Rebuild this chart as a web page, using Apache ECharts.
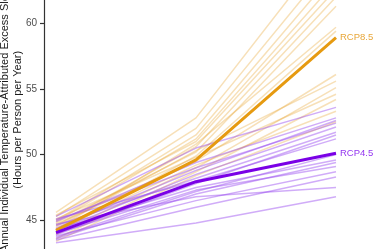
<!DOCTYPE html>
<html>
<head>
<meta charset="utf-8">
<script src="https://cdn.jsdelivr.net/npm/echarts@6/dist/echarts.min.js"></script>
<style>html,body{margin:0;padding:0;background:#fff}#c{width:374px;height:249px}</style>
</head>
<body>
<div id="c"></div>
<script>
// Time points (x categories)
var periods = ['Baseline', 'Mid-century', 'End-century'];
var yTicks = [45, 50, 55, 60];
var yTitle1 = 'Annual Individual Temperature-Attributed Excess Sleep Loss';
var yTitle2 = '(Hours per Person per Year)';

// Ensemble mean lines
var rcp85Mean = [44.23, 49.6, 58.9];
var rcp45Mean = [44.06, 47.94, 50.1];

// Individual model lines, RCP8.5
var rcp85Models = [
  [45.6, 52.8, 66.5],
  [45.3, 52.0, 65.0],
  [45.0, 51.5, 64.0],
  [44.9, 51.2, 63.2],
  [45.4, 51.0, 62.6],
  [44.6, 50.6, 62.0],
  [44.8, 50.2, 61.3],
  [44.3, 50.8, 59.7],
  [44.0, 49.9, 59.4],
  [44.7, 49.5, 56.1],
  [44.5, 50.3, 55.6],
  [43.9, 49.0, 55.1],
  [45.1, 49.8, 54.6],
  [43.6, 48.7, 54.2],
  [43.4, 48.4, 52.5],
  [44.2, 49.2, 53.3]
];
// Individual model lines, RCP4.5
var rcp45Models = [
  [45.3, 50.5, 53.6],
  [44.9, 49.4, 52.8],
  [44.4, 48.8, 52.6],
  [45.0, 49.0, 52.4],
  [44.2, 48.5, 52.1],
  [44.6, 48.2, 51.7],
  [43.9, 47.8, 51.5],
  [44.3, 47.5, 49.6],
  [43.6, 47.0, 49.4],
  [44.0, 47.3, 49.1],
  [43.8, 46.5, 48.7],
  [43.5, 46.0, 48.3],
  [44.7, 46.8, 47.5],
  [43.3, 44.8, 46.8],
  [45.1, 48.0, 51.2],
  [43.7, 47.2, 50.0]
];

var series = [];
rcp85Models.forEach(function (d) {
  series.push({type: 'line', data: d, symbol: 'none', silent: true,
    lineStyle: {color: 'rgba(232,160,40,0.33)', width: 1.5}, z: 2});
});
rcp45Models.forEach(function (d) {
  series.push({type: 'line', data: d, symbol: 'none', silent: true,
    lineStyle: {color: 'rgba(150,70,240,0.45)', width: 1.5}, z: 3});
});
series.push({type: 'line', data: rcp85Mean, symbol: 'none', z: 5,
  lineStyle: {color: '#E69A10', width: 3},
  endLabel: {show: true, formatter: 'RCP8.5', color: '#E8A73A', fontSize: 9.5,
    fontFamily: 'Liberation Sans', distance: 4}});
series.push({type: 'line', data: rcp45Mean, symbol: 'none', z: 6,
  lineStyle: {color: '#7A00E6', width: 3},
  endLabel: {show: true, formatter: 'RCP4.5', color: '#9436F0', fontSize: 9.5,
    fontFamily: 'Liberation Sans', distance: 4}});

var chart = echarts.init(document.getElementById('c'), null, {renderer: 'canvas'});
chart.setOption({
  animation: false,
  backgroundColor: '#fff',
  textStyle: {fontFamily: 'Liberation Sans'},
  grid: {left: 56, right: 38, top: -42.4, bottom: -37, outerBoundsMode: 'none', containLabel: false},
  xAxis: {type: 'category', data: periods, boundaryGap: false, show: false},
  yAxis: {
    type: 'value', min: 40, max: 65, interval: 5, offset: 12,
    name: yTitle2, nameLocation: 'middle', nameGap: 21, nameMoveOverlap: false,
    nameTextStyle: {color: '#1a1a1a', fontSize: 11, fontFamily: 'Liberation Sans', padding: [0, 0, 0, 4]},
    axisLine: {show: true, lineStyle: {color: '#333', width: 1.2}},
    axisTick: {show: true, length: 4, lineStyle: {color: '#333', width: 1.2}},
    axisLabel: {color: '#4d4d4d', fontSize: 10, margin: 7, fontFamily: 'Liberation Sans'},
    splitLine: {show: false}
  },
  graphic: [{
    type: 'text', x: 5, y: 252, rotation: Math.PI / 2,
    style: {text: yTitle1, fill: '#1a1a1a', fontSize: 11, fontFamily: 'Liberation Sans',
      align: 'left', verticalAlign: 'middle'}
  }],
  series: series
});
</script>
</body>
</html>
